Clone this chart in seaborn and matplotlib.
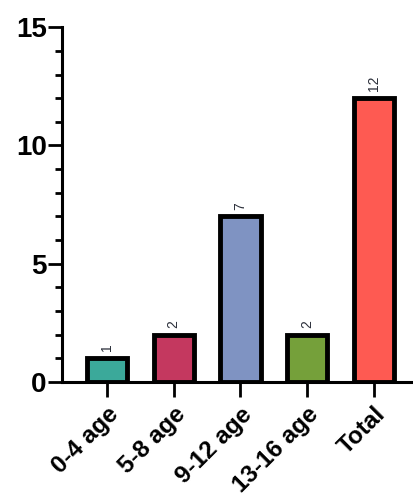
import matplotlib
matplotlib.use('Agg')
import matplotlib.pyplot as plt
from matplotlib.ticker import MultipleLocator
import pandas as pd
import seaborn as sns

categories = ['0-4 age', '5-8 age', '9-12 age', '13-16 age', 'Total']
counts = [1, 2, 7, 2, 12]
colors = ['#3BA99A', '#C4385F', '#7F93C2', '#75A03A', '#FE5A52']

df = pd.DataFrame({'group': categories, 'n': counts})

sns.set_style('white')
plt.rcParams['font.family'] = ['Liberation Sans', 'DejaVu Sans']

fig = plt.figure(figsize=(4.13, 5.04), dpi=100)
ax = fig.add_axes([0.15, 0.242, 0.85, 0.704])

sns.barplot(data=df, x='group', y='n', hue='group', palette=colors,
            width=0.6, edgecolor='black', linewidth=3.5, legend=False,
            saturation=1, ax=ax)

# value labels sit just above the thick bar outline
for i, v in enumerate(counts):
    ax.annotate(str(v), (i, v), xytext=(0, 5), textcoords='offset points',
                rotation=90, ha='center', va='bottom',
                fontsize=10, color='#2b2f3a')

ax.set_ylim(0, 15)
ax.set_xlim(-0.67, 4.58)
ax.yaxis.set_major_locator(MultipleLocator(5))
ax.yaxis.set_minor_locator(MultipleLocator(1))
ax.set_xlabel('')
ax.set_ylabel('')

sns.despine(ax=ax)
for s in ['left', 'bottom']:
    ax.spines[s].set_linewidth(2.2)
    ax.spines[s].set_color('black')

ax.tick_params(axis='y', which='major', direction='out', length=10, width=2,
               color='black', left=True, labelsize=20, pad=1,
               labelcolor='black')
ax.tick_params(axis='y', which='minor', direction='out', length=5, width=2,
               color='black', left=True)
ax.tick_params(axis='x', which='major', direction='out', length=11, width=2,
               color='black', bottom=True, labelsize=17.5, pad=4,
               labelcolor='black')
for t in ax.get_yticklabels():
    t.set_fontweight('bold')
ax.set_xticks(range(len(categories)))
ax.set_xticklabels(categories, rotation=45, ha='right', rotation_mode='anchor',
                   fontweight='bold')

fig.savefig('out.png', dpi=100)
